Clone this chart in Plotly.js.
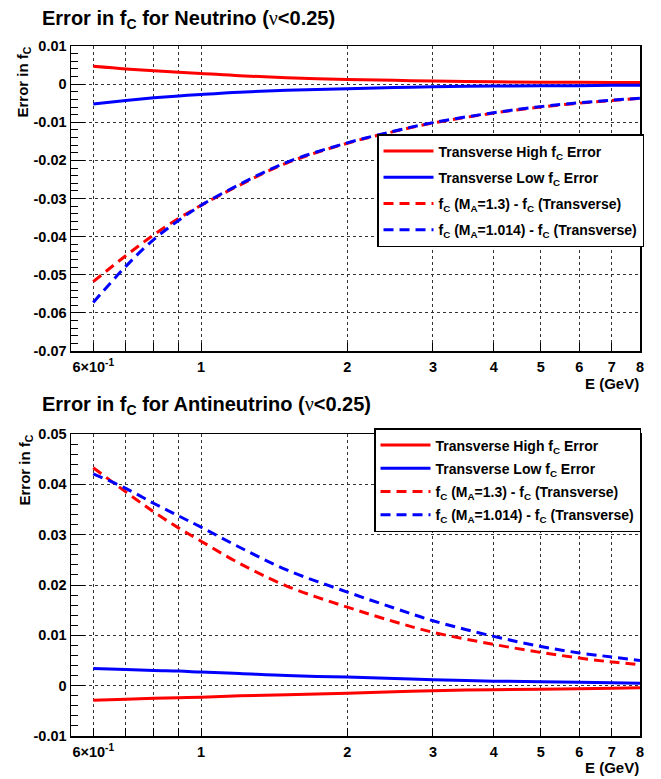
<!DOCTYPE html>
<html>
<head>
<meta charset="utf-8">
<script src="https://cdn.plot.ly/plotly-3.0.1.min.js"></script>
<style>body{margin:0;background:#fff;} #chart{width:661px;height:779px;}</style>
</head>
<body>
<div id="chart"></div>
<script>
// Energy points (GeV)
const energy = [0.6, 0.7, 0.8, 0.9, 1.0, 1.2, 1.5, 2.0, 2.5, 3.0, 4.0, 5.0, 6.0, 7.0, 8.0];

// Neutrino panel
const nuHigh   = [0.0047, 0.0040, 0.0035, 0.0031, 0.0028, 0.0022, 0.0017, 0.0012, 0.0010, 0.0008, 0.0006, 0.0005, 0.0005, 0.0004, 0.0004];
const nuLow    = [-0.0052, -0.0043, -0.0036, -0.0031, -0.0027, -0.0021, -0.0016, -0.0012, -0.0009, -0.0007, -0.0005, -0.0004, -0.0004, -0.0003, -0.0003];
const nuMA13   = [-0.0518, -0.0450, -0.0395, -0.0352, -0.0318, -0.0265, -0.0207, -0.0155, -0.0124, -0.0102, -0.0076, -0.0060, -0.0050, -0.0043, -0.0037];
const nuMA1014 = [-0.0573, -0.0478, -0.0407, -0.0357, -0.0318, -0.0263, -0.0205, -0.0154, -0.0123, -0.0101, -0.0075, -0.0059, -0.0049, -0.0042, -0.0037];

// Antineutrino panel
const anuHigh   = [-0.0029, -0.0027, -0.0025, -0.0024, -0.0023, -0.0020, -0.0018, -0.0015, -0.0012, -0.0010, -0.0008, -0.0007, -0.0006, -0.0005, -0.0004];
const anuLow    = [0.0034, 0.0032, 0.0030, 0.0029, 0.0027, 0.0024, 0.0020, 0.0017, 0.0014, 0.0012, 0.0009, 0.0008, 0.0007, 0.0006, 0.0005];
const anuMA13   = [0.0433, 0.0385, 0.0345, 0.0313, 0.0287, 0.0243, 0.0198, 0.0156, 0.0127, 0.0106, 0.0082, 0.0066, 0.0055, 0.0047, 0.0042];
const anuMA1014 = [0.0421, 0.0392, 0.0362, 0.0337, 0.0315, 0.0275, 0.0230, 0.0186, 0.0154, 0.0129, 0.0098, 0.0078, 0.0065, 0.0057, 0.0050];

// Tick labels
const xTickVals = [0.6, 0.7, 0.8, 0.9, 1, 2, 3, 4, 5, 6, 7, 8];
const xTickText = ['6×10<sup>-1</sup>', '', '', '', '1', '2', '3', '4', '5', '6', '7', '8'];
const yTopVals = [0.01, 0, -0.01, -0.02, -0.03, -0.04, -0.05, -0.06, -0.07];
const yTopText = ['0.01', '0', '-0.01', '-0.02', '-0.03', '-0.04', '-0.05', '-0.06', '-0.07'];
const yBotVals = [0.05, 0.04, 0.03, 0.02, 0.01, 0, -0.01];
const yBotText = ['0.05', '0.04', '0.03', '0.02', '0.01', '0', '-0.01'];

const names = [
  'Transverse High f<sub>C</sub> Error',
  'Transverse Low f<sub>C</sub> Error',
  'f<sub>C</sub> (M<sub>A</sub>=1.3) - f<sub>C</sub> (Transverse)',
  'f<sub>C</sub> (M<sub>A</sub>=1.014) - f<sub>C</sub> (Transverse)'
];

const FONT = 'Liberation Sans, Arial, Helvetica, sans-serif';
const RED = '#ff0000', BLUE = '#0000ff';
const DASH = '10px,6px';

function tr(y, name, color, dash, xa, ya, leg, grp) {
  return {x: energy, y: y, name: name, type: 'scatter', mode: 'lines',
    line: {color: color, width: 3, dash: dash, shape: 'spline'},
    xaxis: xa, yaxis: ya, legend: leg, legendgroup: grp};
}

const data = [
  tr(nuHigh, names[0], RED, 'solid', 'x', 'y', 'legend', 'a1'),
  tr(nuLow, names[1], BLUE, 'solid', 'x', 'y', 'legend', 'a2'),
  tr(nuMA13, names[2], RED, DASH, 'x', 'y', 'legend', 'a3'),
  tr(nuMA1014, names[3], BLUE, DASH, 'x', 'y', 'legend', 'a4'),
  tr(anuHigh, names[0], RED, 'solid', 'x2', 'y2', 'legend2', 'b1'),
  tr(anuLow, names[1], BLUE, 'solid', 'x2', 'y2', 'legend2', 'b2'),
  tr(anuMA13, names[2], RED, DASH, 'x2', 'y2', 'legend2', 'b3'),
  tr(anuMA1014, names[3], BLUE, DASH, 'x2', 'y2', 'legend2', 'b4')
];

const tickFont = {family: FONT, size: 14.5, color: '#000', weight: 'bold'};
const xRange = [Math.log10(0.54), Math.log10(8)];
const xDom = [71/661, 640/661];

function xAxis(anchor) {
  return {type: 'log', range: xRange, domain: xDom, anchor: anchor,
    tickmode: 'array', tickvals: xTickVals, ticktext: xTickText,
    ticks: 'inside', ticklen: 8, tickwidth: 1, tickcolor: '#000',
    showgrid: true, gridcolor: '#333', griddash: 'dot', gridwidth: 1,
    showline: true, linecolor: '#000', linewidth: 1.5, mirror: true,
    zeroline: false, tickfont: tickFont, ticklabelstandoff: 2};
}
function yAxis(anchor, dom, range, vals, text) {
  return {domain: dom, anchor: anchor, range: range,
    tickmode: 'array', tickvals: vals, ticktext: text,
    ticks: 'inside', ticklen: 14, tickwidth: 1, tickcolor: '#000',
    minor: {tickmode: 'linear', tick0: 0, dtick: 0.002, ticks: 'inside', ticklen: 7, tickcolor: '#000', showgrid: false},
    showgrid: true, gridcolor: '#333', griddash: 'dot', gridwidth: 1,
    showline: true, linecolor: '#000', linewidth: 1.5, mirror: true,
    zeroline: false, tickfont: tickFont};
}

const nuSpan = "<span style='font-family:Liberation Serif,DejaVu Serif,serif;font-weight:normal'>ν</span>";
const titleFont = {family: FONT, size: 20, color: '#000', weight: 'bold'};
const axTitleFont = {family: FONT, size: 15, color: '#000', weight: 'bold'};
const legendFont = {family: FONT, size: 14, color: '#000', weight: 'bold'};

const layout = {
  width: 661, height: 779,
  margin: {l: 0, r: 0, t: 0, b: 0},
  paper_bgcolor: '#fff', plot_bgcolor: '#fff',
  showlegend: true,
  xaxis: xAxis('y'),
  yaxis: yAxis('x', [1 - 351/779, 1 - 46/779], [-0.07, 0.01], yTopVals, yTopText),
  xaxis2: xAxis('y2'),
  yaxis2: yAxis('x2', [1 - 736/779, 1 - 434/779], [-0.01, 0.05], yBotVals, yBotText),
  legend: {x: 377/661, y: 1 - 134/779, xanchor: 'left', yanchor: 'top',
    bgcolor: '#fff', bordercolor: '#000', borderwidth: 1.5, font: legendFont,
    itemwidth: 50, tracegroupgap: 5},
  legend2: {x: 374/661, y: 1 - 428/779, xanchor: 'left', yanchor: 'top',
    bgcolor: '#fff', bordercolor: '#000', borderwidth: 1.5, font: legendFont,
    itemwidth: 50, tracegroupgap: 2},
  annotations: [
    {text: 'Error in f<sub>C</sub> for Neutrino (' + nuSpan + '&lt;0.25)', xref: 'paper', yref: 'paper',
     x: 40/661, y: 1 - 20/779, xanchor: 'left', yanchor: 'middle', showarrow: false, font: titleFont},
    {text: 'Error in f<sub>C</sub> for Antineutrino (' + nuSpan + '&lt;0.25)', xref: 'paper', yref: 'paper',
     x: 40/661, y: 1 - 405/779, xanchor: 'left', yanchor: 'middle', showarrow: false, font: titleFont},
    {text: 'Error in f<sub>C</sub>', xref: 'paper', yref: 'paper', textangle: -90,
     x: 23/661, y: 1 - 45/779, xanchor: 'center', yanchor: 'top', showarrow: false, font: axTitleFont},
    {text: 'Error in f<sub>C</sub>', xref: 'paper', yref: 'paper', textangle: -90,
     x: 25/661, y: 1 - 433/779, xanchor: 'center', yanchor: 'top', showarrow: false, font: axTitleFont},
    {text: 'E (GeV)', xref: 'paper', yref: 'paper',
     x: 641/661, y: 1 - 383/779, xanchor: 'right', yanchor: 'middle', showarrow: false, font: axTitleFont},
    {text: 'E (GeV)', xref: 'paper', yref: 'paper',
     x: 641/661, y: 1/779, xanchor: 'right', yanchor: 'bottom', showarrow: false, font: axTitleFont}
  ]
};

Plotly.newPlot('chart', data, layout, {staticPlot: true, displayModeBar: false});
</script>
</body>
</html>
